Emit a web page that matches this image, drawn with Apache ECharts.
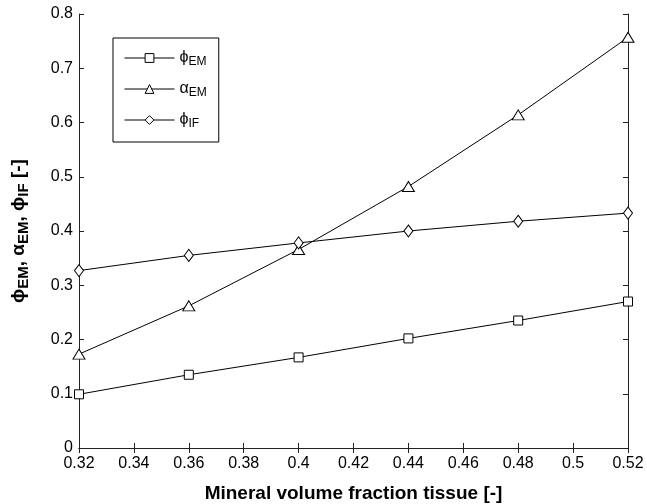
<!DOCTYPE html>
<html>
<head>
<meta charset="utf-8">
<script src="https://cdn.jsdelivr.net/npm/echarts@6/dist/echarts.min.js"></script>
<style>
  html, body { margin: 0; padding: 0; background: #fff; }
  #chart { width: 647px; height: 504px; }
</style>
</head>
<body>
<div id="chart"></div>
<script>
// mineral volume fraction (x)
var fractions = [0.32, 0.36, 0.40, 0.44, 0.48, 0.52]
// phi_EM (squares)
var phiEM = [0.099, 0.135, 0.167, 0.202, 0.235, 0.270]
// alpha_EM (triangles)
var alphaEM = [0.173, 0.262, 0.366, 0.482, 0.614, 0.757]
// phi_IF (diamonds)
var phiIF = [0.327, 0.355, 0.378, 0.400, 0.418, 0.433]

var legendLabels = {
    phiEM: '{g|ϕ}{s|EM}',
    alphaEM: '{g|α}{s|EM}',
    phiIF: '{g|ϕ}{s|IF}'
}

function pairs (ys) {
    return fractions.map(function (x, i) { return [x, ys[i]] })
}

var axisColor = '#222'
var font = 'Liberation Sans, Arial, DejaVu Sans, sans-serif'

var chart = echarts.init(document.getElementById('chart'))

function lineSeries (name, ys, symbol, size) {
    return {
        name: name,
        type: 'line',
        data: pairs(ys),
        symbol: symbol,
        symbolSize: size,
        showAllSymbol: true,
        animation: false,
        lineStyle: { color: '#000', width: 1 },
        itemStyle: { color: '#fff', borderColor: '#000', borderWidth: 1 },
        emphasis: { disabled: true },
        z: 3
    }
}

var option = {
    backgroundColor: '#fff',
    animation: false,
    grid: { left: 79, right: 19, top: 14, bottom: 56, containLabel: false, outerBoundsMode: 'none' },
    legend: {
        left: 113,
        top: 38,
        orient: 'vertical',
        padding: [12, 12, 12, 11],
        itemGap: 13,
        itemWidth: 50,
        itemHeight: 11,
        borderColor: '#000',
        borderWidth: 1,
        backgroundColor: '#fff',
        itemStyle: { borderWidth: 1 },
        lineStyle: { width: 1 },
        data: ['phiEM', 'alphaEM', 'phiIF'],
        formatter: function (name) { return legendLabels[name] },
        textStyle: {
            fontFamily: font,
            rich: {
                g: { fontSize: 16, fontFamily: font, color: '#000', lineHeight: 20 },
                s: { fontSize: 12, fontFamily: font, color: '#000', verticalAlign: 'bottom', lineHeight: 12 }
            }
        }
    },
    xAxis: [
        {
            type: 'value',
            min: 0.32,
            max: 0.52,
            interval: 0.02,
            name: 'Mineral volume fraction tissue [-]',
            nameLocation: 'middle',
            nameGap: 36,
            nameTextStyle: { fontFamily: font, fontSize: 19, fontWeight: 'bold', color: '#000' },
            axisLine: { lineStyle: { color: axisColor } },
            axisTick: { inside: true, length: 5, lineStyle: { color: axisColor } },
            axisLabel: {
                fontFamily: font, fontSize: 16, color: '#000', margin: 8,
                formatter: function (v) { return String(+v.toFixed(2)) }
            },
            splitLine: { show: false }
        },
        {
            type: 'value',
            position: 'top',
            min: 0.32,
            max: 0.52,
            interval: 0.02,
            axisLine: { lineStyle: { color: axisColor } },
            axisTick: { inside: true, length: 5, lineStyle: { color: axisColor } },
            axisLabel: { show: false },
            splitLine: { show: false }
        }
    ],
    yAxis: [
        {
            type: 'value',
            min: 0,
            max: 0.8,
            interval: 0.1,
            name: '{g|ϕ}{s|EM}{g|, α}{s|EM}{g|, ϕ}{s|IF}{g| [-]}',
            nameLocation: 'middle',
            nameGap: 48,
            nameRotate: 90,
            nameTextStyle: {
                fontFamily: font,
                rich: {
                    g: { fontSize: 19, fontWeight: 'bold', fontFamily: font, color: '#000', lineHeight: 24 },
                    s: { fontSize: 15, fontWeight: 'bold', fontFamily: font, color: '#000', verticalAlign: 'bottom', lineHeight: 15 }
                }
            },
            axisLine: { lineStyle: { color: axisColor } },
            axisTick: { inside: true, length: 5, lineStyle: { color: axisColor } },
            axisLabel: {
                fontFamily: font, fontSize: 16, color: '#000', margin: 6,
                formatter: function (v) { return String(+v.toFixed(1)) }
            },
            splitLine: { show: false }
        },
        {
            type: 'value',
            position: 'right',
            min: 0,
            max: 0.8,
            interval: 0.1,
            axisLine: { show: true, lineStyle: { color: axisColor } },
            axisTick: { show: true, inside: true, length: 5, lineStyle: { color: axisColor } },
            axisLabel: { show: false },
            splitLine: { show: false }
        }
    ],
    series: [
        lineSeries('phiEM', phiEM, 'rect', 9),
        lineSeries('alphaEM', alphaEM, 'triangle', [12, 10]),
        lineSeries('phiIF', phiIF, 'diamond', [9, 12])
    ]
}

chart.setOption(option)
</script>
</body>
</html>
